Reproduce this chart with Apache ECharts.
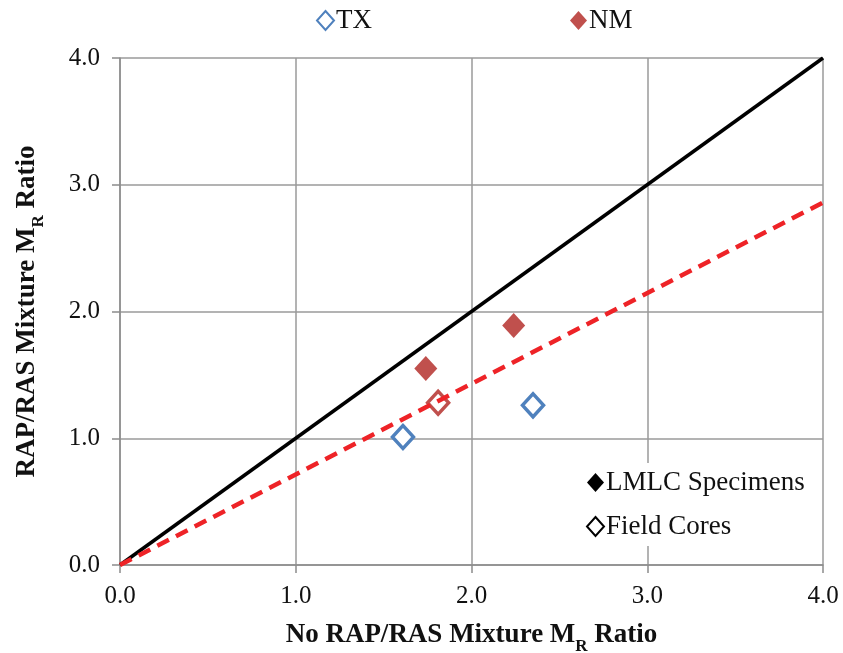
<!DOCTYPE html>
<html>
<head>
<meta charset="utf-8">
<script src="https://cdn.jsdelivr.net/npm/echarts@6/dist/echarts.min.js"></script>
<style>
  html, body { margin: 0; padding: 0; background: #fff; }
  #chart { width: 843px; height: 653px; }
</style>
</head>
<body>
<div id="chart"></div>
<script>
// data
const txCores = [[1.61, 1.01], [2.35, 1.26]];
const nmLmlc = [[1.74, 1.55], [2.24, 1.89]];
const nmCores = [[1.81, 1.28]];
const equalityLine = [[0, 0], [4, 4]];
const trendLine = [[0, 0], [4, 2.86]];
const axisTicks = [0, 1, 2, 3, 4];

const serif = '"Liberation Serif", "Times New Roman", serif';
const blue = '#4F81BD';
const red = '#C0504D';

// bold title with a subscript R
const titleRich = {
    a: { fontFamily: serif, fontWeight: 'bold', fontSize: 27, lineHeight: 40, color: '#111' },
    s: { fontFamily: serif, fontWeight: 'bold', fontSize: 17, lineHeight: 18, verticalAlign: 'bottom', color: '#111' }
};

const axisCommon = {
    type: 'value',
    min: axisTicks[0],
    max: axisTicks[axisTicks.length - 1],
    interval: 1,
    nameLocation: 'middle',
    axisLine: { show: true, lineStyle: { color: '#8c8c8c', width: 1.5 } },
    axisTick: { show: true, length: 8, lineStyle: { color: '#8c8c8c', width: 1.5 } },
    splitLine: { show: true, lineStyle: { color: '#9a9a9a', width: 1.5 } },
    axisLabel: {
        fontFamily: serif, fontSize: 25, color: '#111',
        formatter: v => v.toFixed(1)
    }
};

const chart = echarts.init(document.getElementById('chart'));
chart.setOption({
    animation: false,
    backgroundColor: '#fff',
    grid: { left: 120, right: 20, top: 58, bottom: 88, outerBoundsMode: 'none', containLabel: false },
    xAxis: Object.assign({}, axisCommon, {
        name: '{a|No RAP/RAS Mixture M}{s|R}{a| Ratio}',
        nameGap: 50,
        nameTextStyle: { rich: titleRich },
        axisLabel: Object.assign({}, axisCommon.axisLabel, { margin: 19 })
    }),
    yAxis: Object.assign({}, axisCommon, {
        name: '{a|RAP/RAS Mixture M}{s|R}{a| Ratio}',
        nameGap: 73,
        nameTextStyle: { rich: titleRich },
        axisLabel: Object.assign({}, axisCommon.axisLabel, { margin: 20 })
    }),
    legend: [
        {
            data: ['TX', 'NM'],
            left: 311, top: 2,
            itemGap: 198,
            itemWidth: 17, itemHeight: 19,
            textStyle: { fontFamily: serif, fontSize: 27, color: '#111', padding: [0, 0, 0, -3] }
        },
        {
            data: ['LMLC Specimens', 'Field Cores'],
            orient: 'vertical',
            left: 580, top: 463,
            itemGap: 17,
            itemWidth: 17, itemHeight: 19,
            padding: [6, 6, 6, 6],
            backgroundColor: '#fff',
            textStyle: { fontFamily: serif, fontSize: 27, color: '#111', padding: [0, 0, 0, -3] }
        }
    ],
    series: [
        {
            type: 'line', name: 'equality', data: equalityLine,
            symbol: 'none', silent: true,
            lineStyle: { color: '#000', width: 3.5 }
        },
        {
            type: 'line', name: 'trend', data: trendLine,
            symbol: 'none', silent: true,
            lineStyle: { color: '#EE2327', width: 4.5, type: [13, 8] }
        },
        {
            type: 'scatter', name: 'TX', data: txCores,
            symbol: 'diamond', symbolSize: [21, 23],
            itemStyle: { color: '#fff', borderColor: blue, borderWidth: 3.5, opacity: 1 }
        },
        {
            type: 'scatter', name: 'NM', data: nmLmlc,
            symbol: 'diamond', symbolSize: [23, 25],
            itemStyle: { color: red, opacity: 1 }
        },
        {
            type: 'scatter', name: 'NM cores', data: nmCores,
            symbol: 'diamond', symbolSize: [21, 23],
            itemStyle: { color: '#fff', borderColor: red, borderWidth: 3.5, opacity: 1 }
        },
        {
            type: 'scatter', name: 'LMLC Specimens', data: [],
            symbol: 'diamond',
            itemStyle: { color: '#000', opacity: 1 }
        },
        {
            type: 'scatter', name: 'Field Cores', data: [],
            symbol: 'diamond',
            itemStyle: { color: '#fff', borderColor: '#000', borderWidth: 3, opacity: 1 }
        }
    ]
});
</script>
</body>
</html>
